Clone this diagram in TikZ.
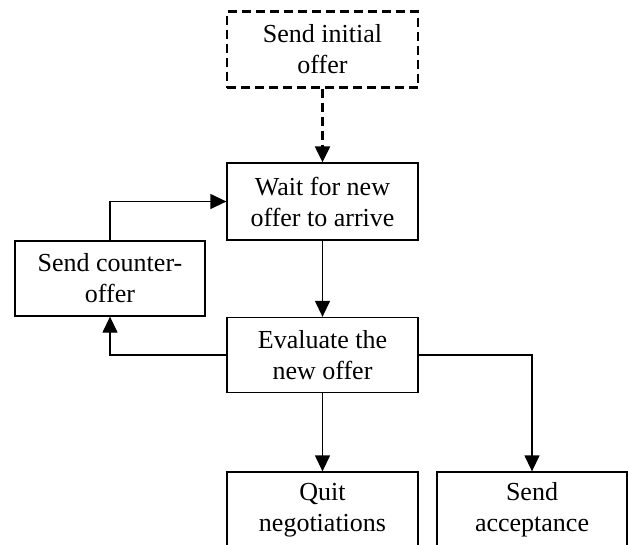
\documentclass[tikz,border=0pt]{standalone}
\usepackage{fontspec}
\setmainfont{Liberation Serif}
\usetikzlibrary{arrows.meta}
\begin{document}
\begin{tikzpicture}[x=1pt,y=-1pt,
  box/.style={draw,line width=1.3pt,rectangle,align=center,inner sep=0pt,
    font=\fontsize{26}{31}\selectfont},
  dbox/.style={box,line width=2.2pt,dash pattern=on 9pt off 5pt},
  conn/.style={line width=1.3pt,-{Triangle[length=16pt,width=15pt]}}]
\useasboundingbox (0,0) rectangle (628,544);
\clip (0,0) rectangle (628,544);
\node[dbox,minimum width=191pt,minimum height=76pt] (init) at (322.5,49.5) {Send initial\\offer};
\node[box,minimum width=191pt,minimum height=77pt] (wait) at (322.5,201.5) {Wait for new\\offer to arrive};
\node[box,minimum width=190pt,minimum height=75pt] (counter) at (110,278.5) {Send counter-\\offer};
\node[box,minimum width=191pt,minimum height=75pt] (eval) at (322.5,355) {Evaluate the\\new offer};
\node[box,minimum width=191pt,minimum height=76pt] (quit) at (322.5,510) {Quit\\negotiations};
\node[box,minimum width=190pt,minimum height=76pt] (accept) at (532,510) {Send\\acceptance};
\draw[conn,line width=2.2pt,dash pattern=on 9pt off 5pt] (init.south) -- (wait.north);
\draw[conn] (wait.south) -- (eval.north);
\draw[conn] (counter.north) |- (wait.west);
\draw[conn] (eval.west) -| (counter.south);
\draw[conn] (eval.south) -- (quit.north);
\draw[conn] (eval.east) -| (accept.north);
\end{tikzpicture}
\end{document}
